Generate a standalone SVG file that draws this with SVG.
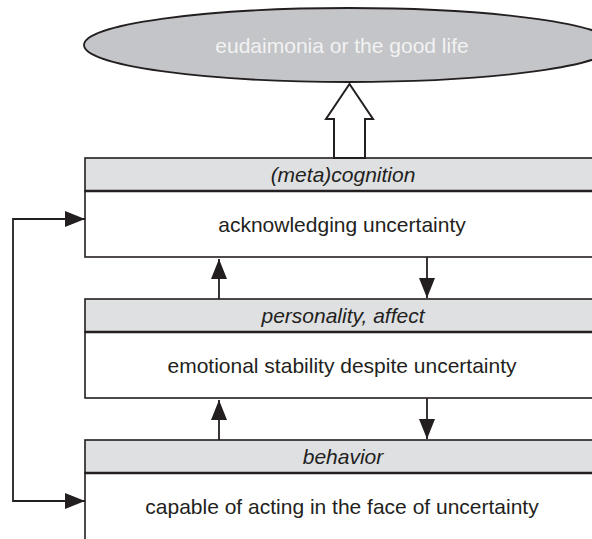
<svg xmlns="http://www.w3.org/2000/svg" width="592" height="539" viewBox="0 0 592 539">
<style>
.hdr{fill:#dfe0e2;stroke:#231f20;stroke-width:1.6}
.body{fill:#ffffff;stroke:#231f20;stroke-width:1.6}
.div{stroke:#231f20;stroke-width:2.6}
.t{font-family:"Liberation Sans",Arial,sans-serif;font-size:21px;fill:#231f20;text-anchor:middle}
.it{font-style:italic}
.con{fill:none;stroke:#231f20;stroke-width:1.8}
</style>
<defs>
<marker id="ah" viewBox="0 0 20 16" refX="20" refY="8" markerWidth="20" markerHeight="16" markerUnits="userSpaceOnUse" orient="auto-start-reverse">
<path d="M0,0 L20,8 L0,16 z" fill="#231f20"/>
</marker>
</defs>
<rect width="592" height="539" fill="#ffffff"/>
<g id="goal">
<ellipse cx="349" cy="45" rx="265" ry="37" fill="#c4c5c8" stroke="#231f20" stroke-width="1.8"/>
<text class="t" x="342" y="53" style="fill:#f2f2f2">eudaimonia or the good life</text>
</g>
<g id="cognition">
<rect class="hdr" x="85" y="158" width="520" height="33"/>
<rect class="body" x="85" y="191" width="520" height="66"/>
<line class="div" x1="85" y1="191" x2="605" y2="191"/>
<text class="t it" x="343" y="181.5">(meta)cognition</text>
<text class="t" x="342" y="232">acknowledging uncertainty</text>
</g>
<g id="personality">
<rect class="hdr" x="85" y="299" width="520" height="33"/>
<rect class="body" x="85" y="332" width="520" height="66"/>
<line class="div" x1="85" y1="332" x2="605" y2="332"/>
<text class="t it" x="343" y="322.5">personality, affect</text>
<text class="t" x="342" y="373">emotional stability despite uncertainty</text>
</g>
<g id="behavior">
<rect class="hdr" x="85" y="440" width="520" height="33"/>
<rect class="body" x="85" y="473" width="520" height="70"/>
<line class="div" x1="85" y1="473" x2="605" y2="473"/>
<text class="t it" x="343" y="463.5">behavior</text>
<text class="t" x="342" y="514">capable of acting in the face of uncertainty</text>
</g>
<g id="connectors">
<polygon points="349.5,84 373,119 365,119 365,158 334,158 334,119 326,119" fill="#ffffff" stroke="#231f20" stroke-width="2" stroke-linejoin="miter"/>
<path class="con" d="M219,299 V259" marker-end="url(#ah)"/>
<path class="con" d="M427,257 V298" marker-end="url(#ah)"/>
<path class="con" d="M219,440 V400" marker-end="url(#ah)"/>
<path class="con" d="M427,398 V439" marker-end="url(#ah)"/>
<path class="con" d="M85,219 H13 V501 H85" marker-start="url(#ah)" marker-end="url(#ah)"/>
</g>
</svg>
